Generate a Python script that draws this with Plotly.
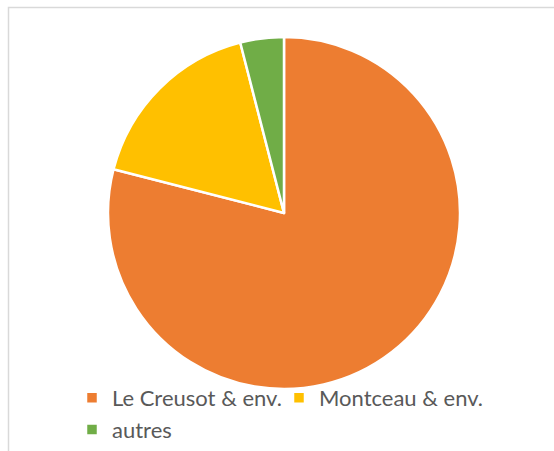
import plotly.graph_objects as go

labels = ["Le Creusot & env.", "Montceau & env.", "autres"]
values = [79, 17, 4]
colors = ["#ED7D31", "#FFC000", "#70AD47"]

W, H = 554, 451

fig = go.Figure(go.Pie(
    labels=labels, values=values, sort=False, direction="clockwise", rotation=0,
    marker=dict(colors=colors, line=dict(color="white", width=2.5)),
    textinfo="none", hoverinfo="label+percent",
    domain=dict(x=[108 / W, 460 / W], y=[1 - 389 / H, 1 - 37 / H]),
))

fig.update_layout(
    width=W, height=H,
    margin=dict(l=0, r=0, t=0, b=0),
    paper_bgcolor="white", plot_bgcolor="white",
    showlegend=True,
    legend=dict(
        orientation="h", x=72 / W, xanchor="left", y=0, yanchor="bottom",
        entrywidth=162, entrywidthmode="pixels",
        font=dict(family="Lato, 'Open Sans', sans-serif", size=22, color="#595959"),
        bgcolor="rgba(0,0,0,0)",
    ),
    shapes=[dict(type="rect", xref="paper", yref="paper",
                 x0=8.5 / W, x1=1.2, y0=-0.2, y1=1 - 7.5 / H,
                 line=dict(color="#D9D9D9", width=1.5), fillcolor="rgba(0,0,0,0)")],
)

fig.write_html("out.html", config={"displayModeBar": False},
               post_script="document.body.style.margin='0';")
